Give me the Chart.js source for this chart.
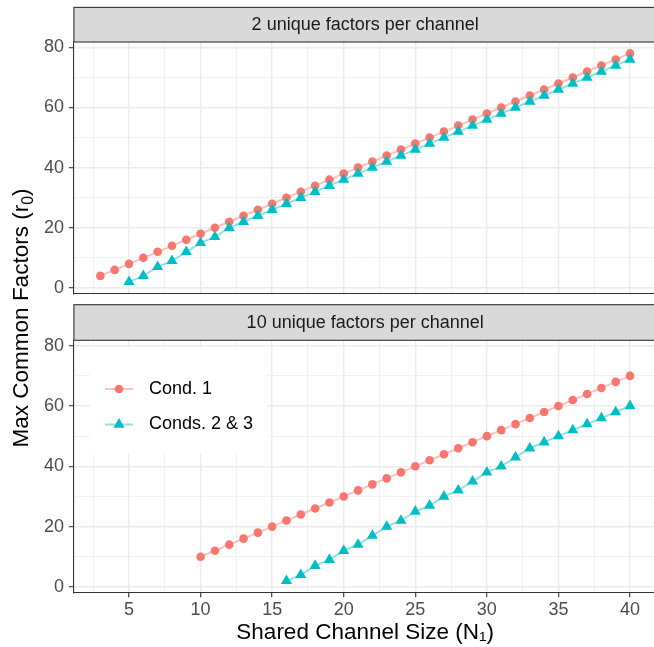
<!DOCTYPE html>
<html>
<head>
<meta charset="utf-8">
<script src="https://cdn.jsdelivr.net/npm/chart.js@4/dist/chart.umd.min.js"></script>
<style>
  html, body { margin:0; padding:0; background:#fff; overflow:hidden; }
  #wrap { position:relative; width:654px; height:647px; overflow:hidden; background:#fff; }
  canvas { position:absolute; left:0; }
  #ytitle {
    position:absolute; left:-179px; top:303px; width:400px; height:30px; line-height:30px;
    text-align:center; transform:rotate(-90deg); transform-origin:50% 50%;
    font-family:"Liberation Sans", Arial, Helvetica, sans-serif; font-size:22.5px; color:#000; white-space:nowrap;
  }
  #ytitle sub { font-size:70%; vertical-align:-0.3em; line-height:0; }
</style>
</head>
<body>
<div id="wrap">
  <canvas id="c1" width="660" height="300" style="top:0px"></canvas>
  <canvas id="c2" width="660" height="347" style="top:300px"></canvas>
  <div id="ytitle">Max Common Factors (r<sub>0</sub>)</div>
</div>
<script>
// ---------------- DATA ----------------
const panelTitles = ["2 unique factors per channel", "10 unique factors per channel"];
const seriesNames = ["Cond. 1", "Conds. 2 & 3"];

// Panel 1: 2 unique factors per channel
const p1Cond1N   = [3,4,5,6,7,8,9,10,11,12,13,14,15,16,17,18,19,20,21,22,23,24,25,26,27,28,29,30,31,32,33,34,35,36,37,38,39,40];
const p1Cond1Val = [4,6,8,10,12,14,16,18,20,22,24,26,28,30,32,34,36,38,40,42,44,46,48,50,52,54,56,58,60,62,64,66,68,70,72,74,76,78];
const p1Cond23N   = [5,6,7,8,9,10,11,12,13,14,15,16,17,18,19,20,21,22,23,24,25,26,27,28,29,30,31,32,33,34,35,36,37,38,39,40];
const p1Cond23Val = [2,4,7,9,12,15,17,20,22,24,26,28,30,32,34,36,38,40,42,44,46,48,50,52,54,56,58,60,62,64,66,68,70,72,74,76];

// Panel 2: 10 unique factors per channel
const p2Cond1N   = [10,11,12,13,14,15,16,17,18,19,20,21,22,23,24,25,26,27,28,29,30,31,32,33,34,35,36,37,38,39,40];
const p2Cond1Val = [10,12,14,16,18,20,22,24,26,28,30,32,34,36,38,40,42,44,46,48,50,52,54,56,58,60,62,64,66,68,70];
const p2Cond23N   = [16,17,18,19,20,21,22,23,24,25,26,27,28,29,30,31,32,33,34,35,36,37,38,39,40];
const p2Cond23Val = [2,4,7,9,12,14,17,20,22,25,27,30,32,35,38,40,43,46,48,50,52,54,56,58,60];

// Axis ticks (major labelled, minor unlabelled)
const xTickValues = [2.5,5,7.5,10,12.5,15,17.5,20,22.5,25,27.5,30,32.5,35,37.5,40];
const xMajorTicks = [5,10,15,20,25,30,35,40];
const yTickValues = [0,10,20,30,40,50,60,70,80];
const yMajorTicks = [0,20,40,60,80];
const xLimits = [1.15, 41.85];
const yLimits = [-1.8, 81.8];

// ---------------- STYLE ----------------
const FONT = '"Liberation Sans", Arial, Helvetica, sans-serif';
const RED = '#F8766D', CYAN = '#00BFC4';
const RED_LINE = 'rgba(248,118,109,0.45)', CYAN_LINE = 'rgba(0,191,196,0.45)';
const GRID = '#EBEBEB', AXIS = '#333333', TICKTXT = '#4D4D4D';
const LEFT = 73.9, RIGHT_PAD = 660 - 656.5;

function pts(xs, ys) { return xs.map((x, i) => ({x: x, y: ys[i]})); }

function makeDatasets(c1x, c1y, c23x, c23y) {
  return [
    {label: seriesNames[0] + ' line', data: pts(c1x, c1y), showLine: true, borderColor: RED_LINE, borderWidth: 2, pointRadius: 0, order: 4},
    {label: seriesNames[1] + ' line', data: pts(c23x, c23y), showLine: true, borderColor: CYAN_LINE, borderWidth: 2, pointRadius: 0, order: 3},
    {label: seriesNames[0], data: pts(c1x, c1y), showLine: false, pointStyle: 'circle', pointRadius: 4.3,
      pointBackgroundColor: RED, pointBorderWidth: 0, pointBorderColor: RED, order: 2},
    {label: seriesNames[1], data: pts(c23x, c23y), showLine: false, pointStyle: 'triangle', pointRadius: 6.4,
      pointBackgroundColor: CYAN, pointBorderWidth: 0, pointBorderColor: CYAN, order: 1}
  ];
}

const stripPlugin = {
  id: 'strip',
  afterDraw(chart, args, opts) {
    const {ctx, chartArea} = chart;
    const h = opts.height;
    const top = chartArea.top - h;
    ctx.save();
    ctx.fillStyle = '#D9D9D9';
    ctx.fillRect(chartArea.left, top, 700, h);
    ctx.strokeStyle = AXIS;
    ctx.lineWidth = 1.1;
    ctx.strokeRect(chartArea.left, top, 700, h);
    ctx.fillStyle = '#1A1A1A';
    ctx.font = '18px ' + FONT;
    ctx.textAlign = 'center';
    ctx.textBaseline = 'middle';
    ctx.fillText(opts.text, (chartArea.left + chartArea.right) / 2, top + h / 2 + 0.5);
    ctx.restore();
  }
};

const legendPlugin = {
  id: 'insideLegend',
  afterDraw(chart, args, opts) {
    if (!opts.show) return;
    const {ctx} = chart;
    const ds = chart.data.datasets;
    const items = [
      {text: ds[2].label, line: ds[0].borderColor, color: ds[2].pointBackgroundColor, style: ds[2].pointStyle, r: ds[2].pointRadius},
      {text: ds[3].label, line: ds[1].borderColor, color: ds[3].pointBackgroundColor, style: ds[3].pointStyle, r: ds[3].pointRadius}
    ];
    ctx.save();
    ctx.fillStyle = '#FFFFFF';
    ctx.fillRect(opts.x, opts.y, opts.w, opts.h);
    items.forEach((it, i) => {
      const cy = opts.rowY[i];
      ctx.strokeStyle = it.line;
      ctx.lineWidth = 2;
      ctx.beginPath();
      ctx.moveTo(opts.keyX0, cy);
      ctx.lineTo(opts.keyX1, cy);
      ctx.stroke();
      ctx.fillStyle = it.color;
      ctx.strokeStyle = it.color;
      Chart.helpers.drawPoint(ctx, {pointStyle: it.style, radius: it.r, borderWidth: 0, rotation: 0},
        (opts.keyX0 + opts.keyX1) / 2, cy);
      ctx.fillStyle = '#000';
      ctx.font = '18px ' + FONT;
      ctx.textAlign = 'left';
      ctx.textBaseline = 'middle';
      ctx.fillText(it.text, opts.textX, cy);
    });
    ctx.restore();
  }
};

function zeroPad(s) { s.paddingTop = 0; s.paddingBottom = 0; s.paddingLeft = 0; s.paddingRight = 0; }

function scalesFor(showX) {
  return {
    x: {
      type: 'linear', min: xLimits[0], max: xLimits[1],
      afterBuildTicks: (s) => { s.ticks = xTickValues.map(v => ({value: v})); },
      afterFit: (s) => { s.height = showX ? 54.7 : 0; zeroPad(s); },
      border: {display: true, color: AXIS, width: 1.1},
      grid: {
        color: (c) => GRID,
        lineWidth: (c) => (c.tick && xMajorTicks.includes(c.tick.value)) ? 1.4 : 0.7,
        tickColor: (c) => (c.tick && xMajorTicks.includes(c.tick.value)) ? AXIS : 'rgba(0,0,0,0)',
        tickLength: 5, drawTicks: showX, tickWidth: 1.1
      },
      ticks: {
        display: showX, color: TICKTXT, font: {size: 18, family: FONT}, padding: 2,
        maxRotation: 0, autoSkip: false,
        callback: (v) => xMajorTicks.includes(v) ? String(v) : ''
      },
      title: showX ? {display: true, text: 'Shared Channel Size (N\u2081)', color: '#000',
        font: {size: 22.5, family: FONT}, padding: {top: 0, bottom: 1}} : {display: false}
    },
    y: {
      type: 'linear', min: yLimits[0], max: yLimits[1],
      afterBuildTicks: (s) => { s.ticks = yTickValues.map(v => ({value: v})); },
      afterFit: (s) => { s.width = LEFT; zeroPad(s); },
      border: {display: true, color: AXIS, width: 1.1},
      grid: {
        color: (c) => GRID,
        lineWidth: (c) => (c.tick && yMajorTicks.includes(c.tick.value)) ? 1.4 : 0.7,
        tickColor: (c) => (c.tick && yMajorTicks.includes(c.tick.value)) ? AXIS : 'rgba(0,0,0,0)',
        tickLength: 5, tickWidth: 1.1
      },
      ticks: {
        color: TICKTXT, font: {size: 18, family: FONT}, padding: 5, autoSkip: false,
        callback: (v) => yMajorTicks.includes(v) ? String(v) : ''
      }
    }
  };
}

Chart.defaults.font.family = FONT;

new Chart(document.getElementById('c1'), {
  type: 'scatter',
  data: {datasets: makeDatasets(p1Cond1N, p1Cond1Val, p1Cond23N, p1Cond23Val)},
  options: {
    responsive: false, animation: false, devicePixelRatio: 1,
    layout: {padding: {top: 42, right: RIGHT_PAD, bottom: 300 - 293.3, left: 0}, autoPadding: false},
    scales: scalesFor(false),
    plugins: {
      legend: {display: false}, tooltip: {enabled: false},
      strip: {text: panelTitles[0], height: 34.6},
      insideLegend: {show: false}
    }
  },
  plugins: [stripPlugin, legendPlugin]
});

new Chart(document.getElementById('c2'), {
  type: 'scatter',
  data: {datasets: makeDatasets(p2Cond1N, p2Cond1Val, p2Cond23N, p2Cond23Val)},
  options: {
    responsive: false, animation: false, devicePixelRatio: 1,
    layout: {padding: {top: 40.3, right: RIGHT_PAD, bottom: 0, left: 0}, autoPadding: false},
    scales: scalesFor(true),
    plugins: {
      legend: {display: false}, tooltip: {enabled: false},
      strip: {text: panelTitles[1], height: 35.6},
      insideLegend: {show: true, x: 90, y: 48, w: 177, h: 105, keyX0: 105, keyX1: 133, textX: 149, rowY: [89, 124.5]}
    }
  },
  plugins: [stripPlugin, legendPlugin]
});
</script>
</body>
</html>
